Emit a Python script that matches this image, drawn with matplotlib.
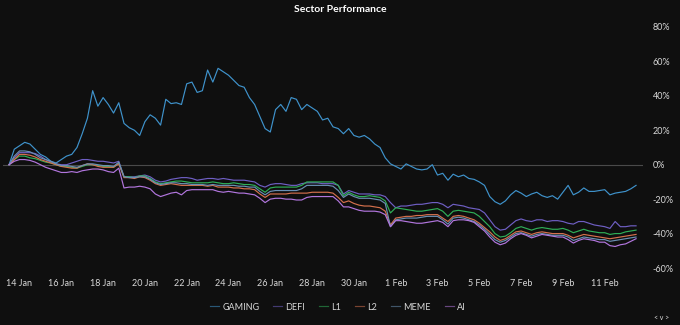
import matplotlib
matplotlib.use("Agg")
import matplotlib.pyplot as plt
import pandas as pd

start = "2025-01-13 12:00"
n_points = 121  # 6-hourly samples

gaming = [0, 9, 11, 13, 12, 9, 6, 4.5, 2, 1,
          3, 5, 6, 10, 18, 27, 43, 34, 39, 35,
          30, 36, 24, 21.5, 20, 17, 25, 29, 27, 23,
          38, 35.5, 36, 35, 47, 48, 42, 43, 55, 48,
          56, 54, 52, 49, 46, 45, 39, 35, 28, 21,
          19, 32, 35, 31, 39, 38, 32, 35, 33, 31,
          26, 27, 22, 21, 18, 21, 17, 16, 17, 15,
          12, 10, 4, 0.5, -1, -2.5, 0.5, -1, -2.5, -3,
          -2.5, 0, -6, -5, -9, -5.5, -7, -6, -8, -8.5,
          -10, -12, -18.5, -21.5, -23, -21, -17.5, -15, -16.5, -18.5,
          -17, -16, -18, -19, -18, -20, -16, -12, -17.5, -16,
          -13.5, -15.5, -15.5, -15, -14.5, -17.5, -16.5, -16, -15.5, -14,
          -12]

defi = [0, 4, 7, 7, 7, 6.5, 5, 3, 1.5, 0.5,
        0, 0, 1, 2, 3, 3, 2.5, 2, 2, 1.5,
        1, 2, -7, -7, -7, -6.5, -6, -7, -9, -10,
        -9.5, -8.5, -8, -7.5, -7.5, -8, -9, -8.5, -8, -8,
        -8.5, -8, -8.5, -9, -9, -9, -9.5, -10, -12, -13,
        -11.5, -11, -11, -11.5, -12, -12, -11, -10.5, -10.5, -10.5,
        -11, -11, -11, -12, -17, -15, -16, -17, -17, -17,
        -17.5, -17.5, -18.5, -22, -25, -24, -24, -23.5, -23, -23,
        -22.5, -22, -22, -23, -25, -23, -23.5, -24, -25, -25.5,
        -26, -28, -32, -36, -38, -37.5, -35, -32.5, -31.5, -32.5,
        -33, -32, -32, -33, -32.5, -32.5, -33, -34, -34.5, -33,
        -33, -34, -35, -35.5, -36, -37, -33, -36, -36, -35.5,
        -35.5]

l1 = [0, 3, 5, 5, 4, 3.5, 2.5, 1.5, 1, 0,
      -1, -1, -1.5, -2, -1, 0, 0, -0.5, -1, -1,
      -1.5, 1, -7, -7, -7.5, -6.5, -6.5, -8, -10, -11,
      -10.5, -10, -9.5, -9.5, -10, -10.5, -10.5, -10.5, -10.5, -10,
      -10.5, -11, -11, -10.5, -11, -11.5, -11.5, -12, -14, -16,
      -13.5, -13, -13, -13, -13, -13, -12, -10, -10, -10,
      -10, -10, -10, -12, -18, -16, -17.5, -18.5, -18.5, -18,
      -18.5, -19, -21, -28, -25, -25.5, -26, -26.5, -27, -27,
      -26.5, -26, -25.5, -27, -30, -27, -26.5, -27, -27.5, -28,
      -30, -33, -36, -40, -42, -41.5, -39.5, -37, -36, -37,
      -38, -37, -36.5, -37, -37.5, -37.5, -37, -38, -39.5, -38.5,
      -37.5, -38.5, -39, -39.5, -39.5, -40.5, -40, -40, -39, -38.5,
      -38]

l2 = [0, 3, 6, 6, 5.5, 4.5, 3, 2, 1, 0,
      -1, -1.5, -2, -2, -0.5, 0.5, 0, -1, -1.5, -1.5,
      -1.5, 0.5, -7.5, -7.5, -8, -7, -7.5, -9, -11, -12,
      -11.5, -11, -11.5, -12, -12, -12, -12, -12, -12.5, -12,
      -13, -13, -13, -13.5, -13.5, -14, -14, -14.5, -17, -19,
      -17, -17, -17, -17, -16.5, -16.5, -16.5, -16.5, -16, -16,
      -16, -16, -16.5, -19, -22, -21, -22.5, -23.5, -24, -24,
      -24.5, -25, -27, -35, -31, -30.5, -30, -30, -29.5, -29.5,
      -29, -29, -29, -31, -33, -30, -29.5, -30, -31, -32,
      -34, -36.5, -39, -42, -44, -43, -41, -39, -38.5, -39.5,
      -40.5, -39.5, -39, -39.5, -40, -40, -40, -41, -42.5, -41.5,
      -40.5, -41, -41.5, -42, -42.5, -43, -42.5, -42, -41.5, -41,
      -40.5]

meme = [0, 5, 8, 8, 7.5, 6, 4, 3, 2, 0.5,
        -0.5, -0.5, -1, -1.5, -0.5, 0.5, 0.5, 0, -0.5, -0.5,
        -1, 1.5, -7, -7.5, -7.5, -7, -7, -8.5, -10.5, -11.5,
        -11, -10.5, -10.5, -11, -11, -11.5, -11.5, -11.5, -12, -11.5,
        -12, -12, -12, -12, -12.5, -12.5, -13, -13, -15.5, -17.5,
        -15.5, -15, -15, -15, -15, -15, -14, -12, -12, -12,
        -12, -12, -12.5, -15, -19, -17, -18.5, -19.5, -19.5, -19.5,
        -20, -20.5, -22.5, -36, -32, -31.5, -31, -31, -31, -30.5,
        -30, -30, -30, -32, -34.5, -31, -30.5, -31, -32, -33,
        -35, -37.5, -40.5, -43.5, -45, -44, -42, -40, -39.5, -40.5,
        -41.5, -40.5, -40, -40.5, -41, -41, -41, -42, -44, -43,
        -42, -42.5, -43, -43.5, -43.5, -44.5, -44, -43.5, -43, -42.5,
        -42]

ai = [0, 2, 3, 3, 2.5, 1.5, 0, -1.5, -2.5, -3.5,
      -4.5, -4.5, -4, -4.5, -3.5, -3, -2.5, -2.5, -3, -4,
      -4.5, -2, -13.5, -13, -13, -12.5, -13, -14, -17, -18.5,
      -17.5, -16.5, -16, -17.5, -15, -14.5, -14.5, -14.5, -14.5, -14.5,
      -15.5, -16, -15.5, -16, -16.5, -16.5, -17, -17.5, -19.5, -22,
      -20, -19.5, -19.5, -20, -20, -20.5, -20.5, -19, -18.5, -18.5,
      -18.5, -18.5, -18.5, -21, -24.5, -24.5, -25.5, -26.5, -27, -27,
      -27, -27.5, -29, -36, -32.5, -32.5, -33, -33.5, -34, -34,
      -33.5, -33, -32.5, -33.5, -36, -32.5, -32, -32, -32.5, -33.5,
      -36, -38.5, -42, -45, -46.5, -45.5, -43, -41, -40, -41,
      -42.5, -41.5, -40.5, -41, -41.5, -42, -42, -43.5, -45.5, -44,
      -43, -43.5, -44, -45, -45, -47, -47.5, -46.5, -46, -44.5,
      -43]

series_names = ["GAMING", "DEFI", "L1", "L2", "MEME", "AI"]
series_values = [gaming, defi, l1, l2, meme, ai]
series_colors = ["#3f93cc", "#6f5fc4", "#2fae57", "#d4704c", "#6a8fb3", "#b276de"]

y_ticks = [-60, -40, -20, 0, 20, 40, 60, 80]

bg = "#0f0f0f"
dates = pd.date_range(start, periods=n_points, freq="6h")

fig = plt.figure(figsize=(6.8, 3.25), dpi=100, facecolor=bg)
ax = fig.add_axes([3 / 680, 1 - 268 / 325, 640 / 680, 241 / 325], facecolor=bg)

font = ["Lato", "DejaVu Sans"]

for name, vals, col in zip(series_names, series_values, series_colors):
    ax.plot(dates, vals, color=col, lw=0.85, label=name)

ax.axhline(0, color="#4a4a4a", lw=0.8, zorder=0)

x0 = pd.Timestamp("2025-01-14") + pd.Timedelta(days=(3 - 19.5) / 20.9)
x1 = pd.Timestamp("2025-01-14") + pd.Timedelta(days=(643 - 19.5) / 20.9)
ax.set_xlim(x0, x1)
ax.set_ylim(-60, 80)

ax.yaxis.tick_right()
ax.set_yticks(y_ticks)
ax.set_yticklabels([f"{v}%" for v in y_ticks], family=font, fontsize=6.5, color="#d8d8d8")
for lab in ax.get_yticklabels():
    lab.set_horizontalalignment("left")
ax.tick_params(axis="y", length=0, pad=7)

xt = pd.date_range("2025-01-14", periods=15, freq="2D")
ax.set_xticks(xt)
ax.set_xticklabels([f"{d.day} {d.strftime('%b')}" for d in xt], family=font,
                   fontsize=6.5, color="#d8d8d8")
ax.tick_params(axis="x", length=0, pad=8)

for s in ax.spines.values():
    s.set_visible(False)

fig.text(0.5, 1 - 10 / 325, "Sector Performance", ha="center", va="center",
         color="white", fontsize=7.5, fontweight="bold", family=font)

leg = fig.legend(loc="center", bbox_to_anchor=(338 / 680, 1 - 307 / 325), ncol=6,
                 frameon=False, prop={"family": font, "size": 6.5},
                 handlelength=1.0, handletextpad=0.35, columnspacing=1.55)
for t in leg.get_texts():
    t.set_color("#d8d8d8")
for h in leg.get_lines():
    h.set_alpha(0.55)

fig.text(662 / 680, 1 - 318 / 325, "< v >", ha="center", va="center",
         color="#d8d8d8", fontsize=5, family=font)

fig.savefig("out.png", dpi=100, facecolor=bg)
